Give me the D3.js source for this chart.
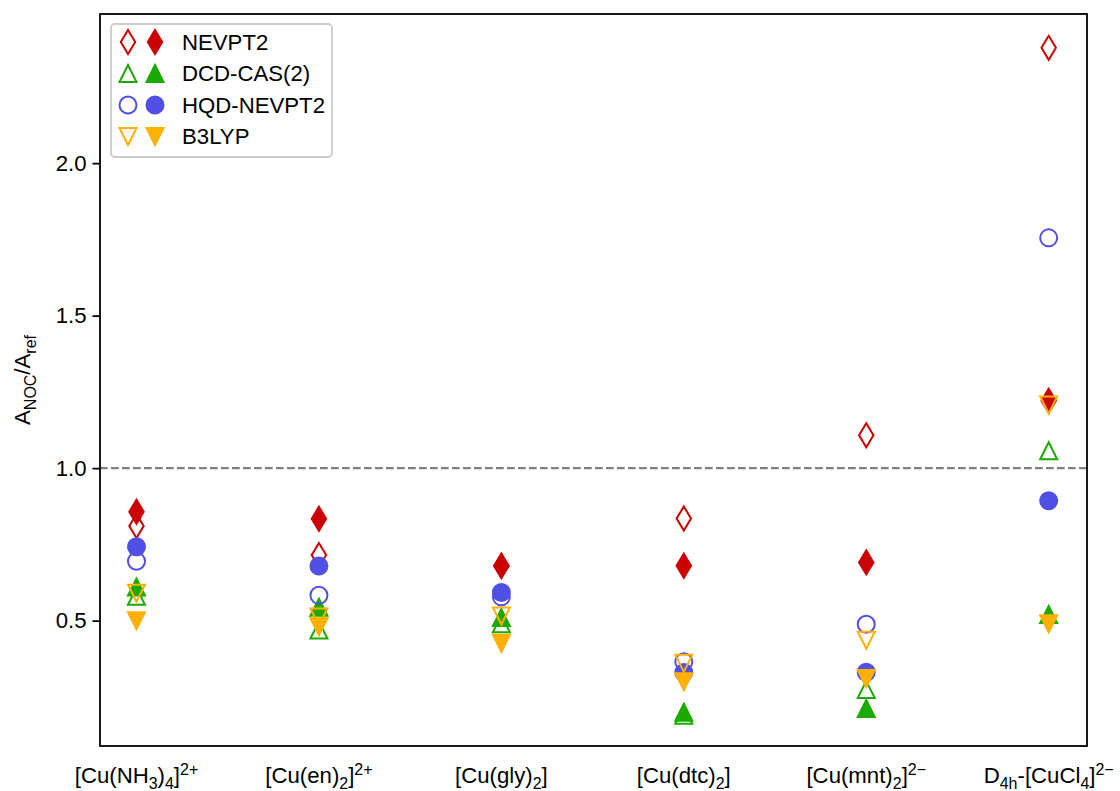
<!DOCTYPE html>
<html>
<head>
<meta charset="utf-8">
<script src="https://cdn.jsdelivr.net/npm/d3@7"></script>
<style>
  body { margin: 0; background: #fff; }
  text { font-family: "Liberation Sans", Arial, Helvetica, sans-serif; fill: #000; }
</style>
</head>
<body>
<svg id="chart" width="1120" height="791"></svg>
<script>
// Complexes on the x axis (_{..} = subscript, ^{..} = superscript)
const categories = [
  "[Cu(NH_{3})_{4}]^{2+}",
  "[Cu(en)_{2}]^{2+}",
  "[Cu(gly)_{2}]",
  "[Cu(dtc)_{2}]",
  "[Cu(mnt)_{2}]^{2\u2212}",
  "D_{4h}-[CuCl_{4}]^{2\u2212}"
];

// A_NOC / A_ref ratios: open and filled markers per method
const nevpt2Open   = [0.81, 0.715, 0.68, 0.835, 1.108, 2.378];
const nevpt2Filled = [0.857, 0.834, 0.679, 0.680, 0.691, 1.221];
const dcdOpen      = [0.58, 0.469, 0.49, 0.19, 0.274, 1.057];
const dcdFilled    = [0.61, 0.544, 0.51, 0.20, 0.212, 0.52];
const hqdOpen      = [0.695, 0.583, 0.578, 0.365, 0.488, 1.755];
const hqdFilled    = [0.742, 0.679, 0.592, 0.33, 0.331, 0.893];
const b3lypOpen    = [0.59, 0.512, 0.515, 0.36, 0.436, 1.207];
const b3lypFilled  = [0.50, 0.48, 0.426, 0.30, 0.31, 0.49];

const yTicks = [0.5, 1.0, 1.5, 2.0];
const referenceRatio = 1.0;

const methods = [
  { name: "NEVPT2",     color: "#cc0000", shape: "thinDiamond",  open: nevpt2Open, filled: nevpt2Filled },
  { name: "DCD-CAS(2)", color: "#1aaa00", shape: "triangleUp",   open: dcdOpen,    filled: dcdFilled },
  { name: "HQD-NEVPT2", color: "#5050e6", shape: "circle",       open: hqdOpen,    filled: hqdFilled },
  { name: "B3LYP",      color: "#ffb000", shape: "triangleDown", open: b3lypOpen,  filled: b3lypFilled }
];

const margin = { left: 100, top: 14, right: 1087, bottom: 746 };
const FS = 22.2;       // 10 pt text
const MS = 17;         // marker size in px
const MEW = 2;         // marker edge width

const svg = d3.select("#chart");

const x = d3.scaleLinear().domain([-0.2, 5.21]).range([margin.left, margin.right]);
const y = d3.scaleLinear().domain([0.089, 2.489]).range([margin.bottom, margin.top]);

// Marker outlines centred on (0,0)
function markerPath(shape, m) {
  const h = m / 2;
  switch (shape) {
    case "circle": {
      const p = d3.path(); p.arc(0, 0, h, 0, 2 * Math.PI); p.closePath(); return p.toString();
    }
    case "triangleUp":   return `M0,${-h}L${h},${h}L${-h},${h}Z`;
    case "triangleDown": return `M0,${h}L${h},${-h}L${-h},${-h}Z`;
    case "thinDiamond": {
      const hh = m * 0.7071, hw = hh * 0.6;
      return `M0,${-hh}L${hw},0L0,${hh}L${-hw},0Z`;
    }
  }
}

// Rich text with simple sub/superscripts
function richText(sel, str, fs) {
  const parts = str.match(/(_\{[^}]*\}|\^\{[^}]*\}|[^_^]+)/g);
  let prev = 0;
  parts.forEach(p => {
    let txt = p, shift = 0, size = fs;
    if (p.startsWith("_{")) { txt = p.slice(2, -1); shift = 0.26 * fs; size = 0.72 * fs; }
    else if (p.startsWith("^{")) { txt = p.slice(2, -1); shift = -0.38 * fs; size = 0.72 * fs; }
    sel.append("tspan")
      .attr("dy", shift - prev)
      .attr("font-size", size)
      .text(txt);
    prev = shift;
  });
}

// Reference line at ratio 1
svg.append("line")
  .attr("x1", margin.left).attr("x2", margin.right)
  .attr("y1", y(referenceRatio)).attr("y2", y(referenceRatio))
  .attr("stroke", "#808080").attr("stroke-width", 2.1)
  .attr("stroke-dasharray", "7.7,3.3");

// Data markers
const plot = svg.append("g");
methods.forEach(mth => {
  [["open", mth.open], ["filled", mth.filled]].forEach(([kind, vals]) => {
    plot.append("g").selectAll("path")
      .data(vals)
      .join("path")
      .attr("transform", (v, i) => `translate(${x(i)},${y(v)})`)
      .attr("d", markerPath(mth.shape, MS))
      .attr("fill", kind === "filled" ? mth.color : "none")
      .attr("stroke", mth.color)
      .attr("stroke-width", MEW)
      .attr("stroke-linejoin", "miter");
  });
});

// Frame
svg.append("rect")
  .attr("x", margin.left).attr("y", margin.top)
  .attr("width", margin.right - margin.left).attr("height", margin.bottom - margin.top)
  .attr("fill", "none").attr("stroke", "#000").attr("stroke-width", 1.8);

// Y axis
const yAxis = d3.axisLeft(y).tickValues(yTicks).tickFormat(d3.format(".1f"))
  .tickSize(7.5).tickPadding(6);
const gy = svg.append("g").attr("transform", `translate(${margin.left},0)`).call(yAxis);
gy.select(".domain").remove();
gy.selectAll(".tick line").attr("stroke", "#000").attr("stroke-width", 1.8);
gy.selectAll(".tick text").attr("font-size", FS)
  .attr("font-family", '"Liberation Sans", Arial, Helvetica, sans-serif').attr("fill", "#000");

// X category labels
const gx = svg.append("g");
categories.forEach((c, i) => {
  const t = gx.append("text")
    .attr("x", x(i)).attr("y", 783)
    .attr("text-anchor", "middle")
    .attr("font-size", FS);
  richText(t, c, FS);
});

// Y axis title
const yl = svg.append("text")
  .attr("transform", `translate(30,${(margin.top + margin.bottom) / 2}) rotate(-90)`)
  .attr("text-anchor", "middle")
  .attr("font-size", FS);
richText(yl, "A_{NOC}/A_{ref}", FS);

// Legend
const leg = svg.append("g");
leg.append("rect")
  .attr("x", 111).attr("y", 24).attr("width", 221).attr("height", 133)
  .attr("rx", 4).attr("ry", 4)
  .attr("fill", "#fff").attr("fill-opacity", 0.8)
  .attr("stroke", "#cccccc").attr("stroke-width", 1.8);
methods.forEach((mth, k) => {
  const ry = 42 + k * 31.5;
  leg.append("path").attr("transform", `translate(128,${ry})`)
    .attr("d", markerPath(mth.shape, MS)).attr("fill", "none")
    .attr("stroke", mth.color).attr("stroke-width", MEW);
  leg.append("path").attr("transform", `translate(155,${ry})`)
    .attr("d", markerPath(mth.shape, MS)).attr("fill", mth.color)
    .attr("stroke", mth.color).attr("stroke-width", MEW);
  leg.append("text").attr("x", 182).attr("y", ry).attr("dy", "0.36em")
    .attr("font-size", FS).text(mth.name);
});
</script>
</body>
</html>
